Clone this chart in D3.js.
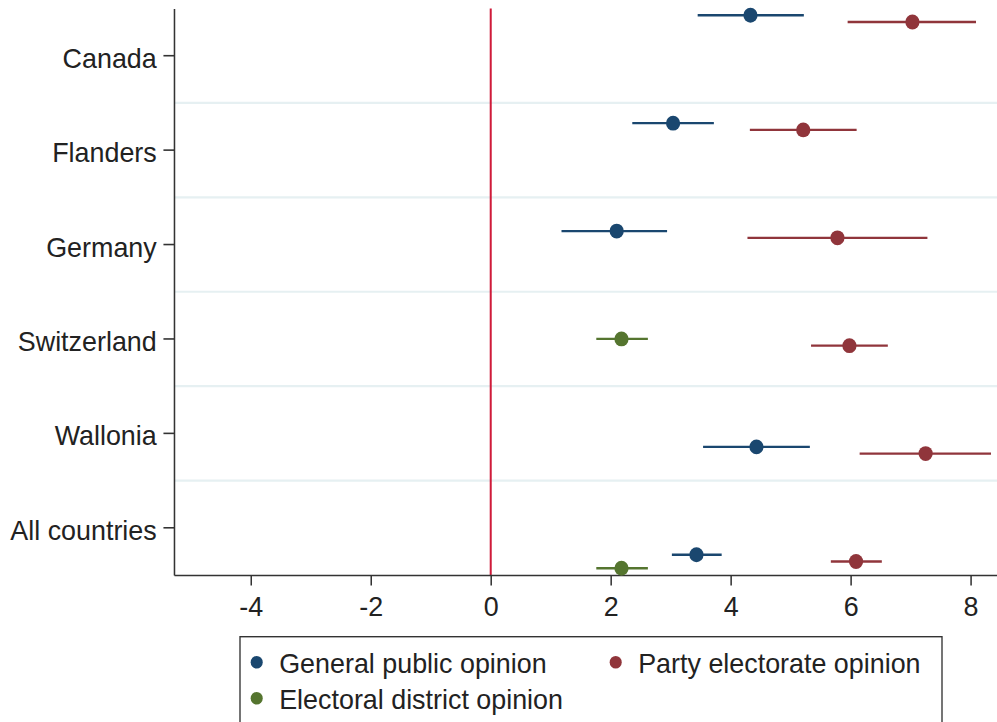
<!DOCTYPE html>
<html>
<head>
<meta charset="utf-8">
<script src="https://cdn.jsdelivr.net/npm/d3@7/dist/d3.min.js"></script>
<style>
  body { margin: 0; background: #fff; }
  svg { display: block; }
</style>
</head>
<body>
<div id="canvas"></div>
<script>
"use strict"

/* the reference is squeezed a little horizontally, so we draw wider and let the viewBox squash it */
let svgWidth = 997;
let svgHeight = 722;
let squeeze = 0.96;
let innerWidth = svgWidth / squeeze;

let plotLeft = 174 / squeeze;
let plotRight = svgWidth / squeeze;
let plotTop = 8.5;
let plotBottom = 575;

let fontFamily = "'Liberation Sans', Arial, Helvetica, sans-serif";
let textColor = "#222";
let axisColor = "#333";

/* data */
let countries = ["Canada", "Flanders", "Germany", "Switzerland", "Wallonia", "All countries"];
let xTicks = [-4, -2, 0, 2, 4, 6, 8];

// general public opinion (no estimate for Switzerland)
let generalEst = [4.33, 3.04, 2.10, null, 4.43, 3.43];
let generalLo = [3.45, 2.36, 1.18, null, 3.54, 3.02];
let generalHi = [5.22, 3.72, 2.94, null, 5.32, 3.85];

// party electorate opinion
let partyEst = [7.03, 5.21, 5.78, 5.98, 7.25, 6.09];
let partyLo = [5.95, 4.32, 4.28, 5.34, 6.15, 5.67];
let partyHi = [8.09, 6.10, 7.28, 6.62, 8.34, 6.52];

// electoral district opinion
let districtEst = [null, null, null, 2.18, null, 2.18];
let districtLo = [null, null, null, 1.76, null, 1.76];
let districtHi = [null, null, null, 2.62, null, 2.62];

let seriesNames = ["General public opinion", "Party electorate opinion", "Electoral district opinion"];
let seriesColors = ["#1a476f", "#90353b", "#55752f"];

/* build point list; district shares the first row when general public is missing */
let points = [];
countries.forEach(function (c, i) {
    let hasGeneral = generalEst[i] !== null;
    if (hasGeneral) {
        points.push({ country: i, slot: 0, est: generalEst[i], lo: generalLo[i], hi: generalHi[i], s: 0 });
    }
    points.push({ country: i, slot: 1, est: partyEst[i], lo: partyLo[i], hi: partyHi[i], s: 1 });
    if (districtEst[i] !== null) {
        points.push({ country: i, slot: hasGeneral ? 2 : 0, est: districtEst[i], lo: districtLo[i], hi: districtHi[i], s: 2 });
    }
});

let svg = d3.select("#canvas")
    .append("svg")
    .attr("width", svgWidth)
    .attr("height", svgHeight)
    .attr("viewBox", "0 0 " + innerWidth + " " + svgHeight)
    .attr("preserveAspectRatio", "none");

let xScale = d3.scaleLinear()
    .domain([-5.28, 8.44])
    .range([plotLeft, plotRight]);

// country bands for the ticks and separators
let yBand = d3.scaleBand()
    .domain(countries)
    .range([plotTop, plotBottom]);

// each country gets 16 rows, the points sit in the first ones
let rowsPerCountry = 16;
let yRow = d3.scaleLinear()
    .domain([-1, rowsPerCountry * (countries.length - 1) + 3])
    .range([plotTop, plotBottom]);

/* light separators between countries */
svg.append("g")
    .selectAll("line")
    .data(countries.slice(1))
    .join("line")
    .attr("x1", plotLeft)
    .attr("x2", plotRight)
    .attr("y1", function (d) { return yBand(d); })
    .attr("y2", function (d) { return yBand(d); })
    .attr("stroke", "#e6f0f2")
    .attr("stroke-width", 2.2);

/* zero reference line */
svg.append("line")
    .attr("x1", xScale(0))
    .attr("x2", xScale(0))
    .attr("y1", plotTop)
    .attr("y2", plotBottom)
    .attr("stroke", "#cf1b3a")
    .attr("stroke-width", 2.1);

/* axes */
let yAxis = svg.append("g")
    .attr("transform", "translate(" + plotLeft + ",0)")
    .call(d3.axisLeft(yBand).tickSize(11).tickSizeOuter(0).tickPadding(7));

let xAxis = svg.append("g")
    .attr("transform", "translate(0," + plotBottom + ")")
    .call(d3.axisBottom(xScale).tickValues(xTicks).tickSize(10.5).tickSizeOuter(0).tickPadding(11)
        .tickFormat(function (d) { return String(d); }));

[yAxis, xAxis].forEach(function (ax) {
    ax.select(".domain").attr("stroke", axisColor).attr("stroke-width", 1.6);
    ax.selectAll(".tick line").attr("stroke", axisColor).attr("stroke-width", 1.6);
    ax.selectAll(".tick text")
        .attr("fill", textColor)
        .style("font-family", fontFamily)
        .style("font-size", "28px");
});
yAxis.selectAll(".tick text").attr("dy", "0.43em");

/* confidence intervals and estimates */
function pointY(d) {
    return yRow(d.country * rowsPerCountry + d.slot);
}

svg.append("g")
    .selectAll("line")
    .data(points)
    .join("line")
    .attr("x1", function (d) { return xScale(d.lo); })
    .attr("x2", function (d) { return xScale(d.hi); })
    .attr("y1", pointY)
    .attr("y2", pointY)
    .attr("stroke", function (d) { return seriesColors[d.s]; })
    .attr("stroke-width", 2.3);

svg.append("g")
    .selectAll("circle")
    .data(points)
    .join("circle")
    .attr("cx", function (d) { return xScale(d.est); })
    .attr("cy", pointY)
    .attr("r", 7.4)
    .attr("fill", function (d) { return seriesColors[d.s]; });

/* legend box, runs off the bottom of the picture */
let legendLeft = 240 / squeeze;
let legendRight = 942 / squeeze;
let legendTop = 636.7;

svg.append("rect")
    .attr("x", legendLeft)
    .attr("y", legendTop)
    .attr("width", legendRight - legendLeft)
    .attr("height", 120)
    .attr("fill", "#fff")
    .attr("stroke", axisColor)
    .attr("stroke-width", 1.4);

let legendItems = [
    { s: 0, col: 0, row: 0 },
    { s: 1, col: 1, row: 0 },
    { s: 2, col: 0, row: 1 }
];
let legendColX = [256.7 / squeeze, 615.7 / squeeze];
let legendRowY = [662.3, 698.3];

let legend = svg.append("g")
    .selectAll("g")
    .data(legendItems)
    .join("g")
    .attr("transform", function (d) {
        return "translate(" + legendColX[d.col] + "," + legendRowY[d.row] + ")";
    });

legend.append("circle")
    .attr("r", 6.3)
    .attr("fill", function (d) { return seriesColors[d.s]; });

legend.append("text")
    .attr("x", 22.5 / squeeze)
    .attr("y", 10.3)
    .attr("fill", textColor)
    .style("font-family", fontFamily)
    .style("font-size", "28px")
    .text(function (d) { return seriesNames[d.s]; });
</script>
</body>
</html>
